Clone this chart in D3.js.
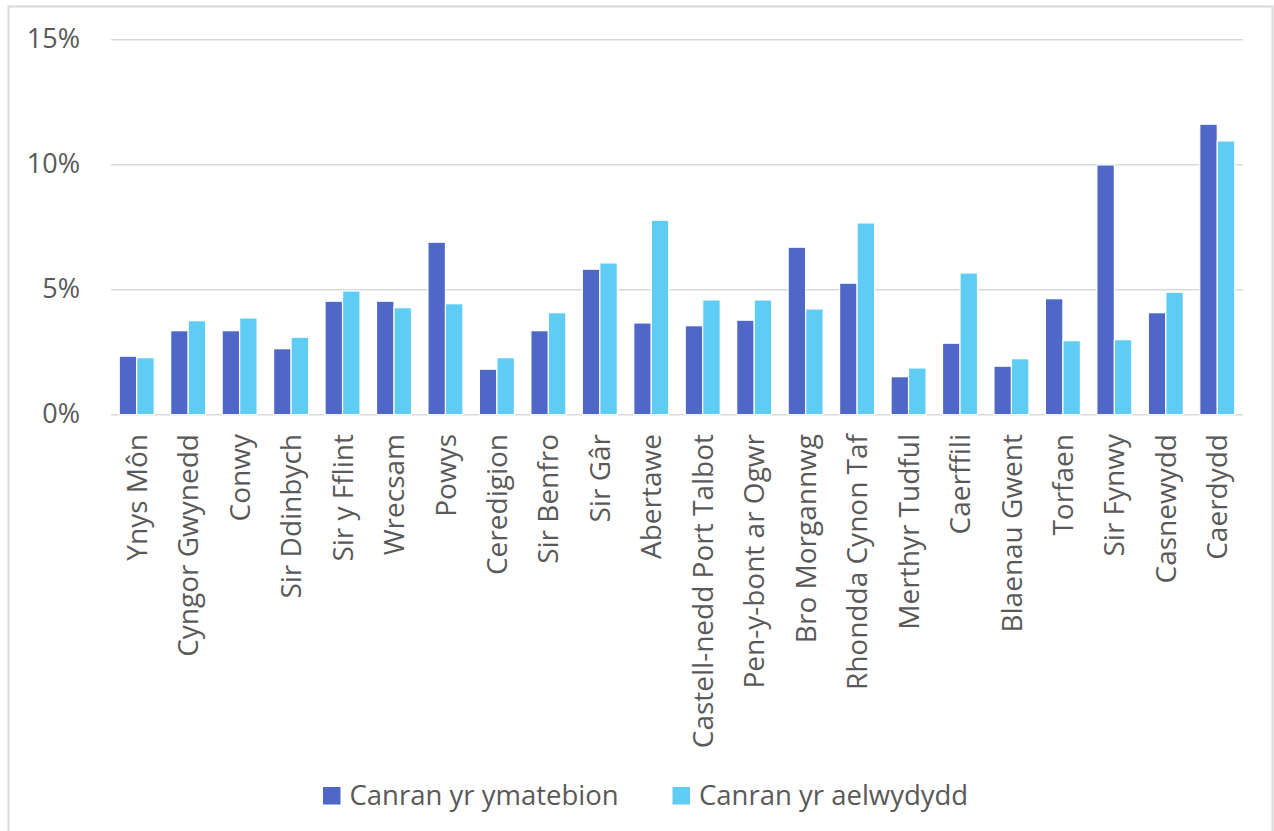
<!DOCTYPE html>
<html>
<head>
<meta charset="utf-8">
<script src="https://cdn.jsdelivr.net/npm/d3@7"></script>
<style>
  html, body { margin: 0; padding: 0; background: #fff; }
  svg { display: block; }
  text { font-family: "Open Sans", "Noto Sans", sans-serif; fill: #595959; }
</style>
</head>
<body>
<svg id="chart" width="1274" height="831"></svg>
<script>
const categories = ["Ynys Môn", "Cyngor Gwynedd", "Conwy", "Sir Ddinbych", "Sir y Fflint", "Wrecsam", "Powys", "Ceredigion", "Sir Benfro", "Sir Gâr", "Abertawe", "Castell-nedd Port Talbot", "Pen-y-bont ar Ogwr", "Bro Morgannwg", "Rhondda Cynon Taf", "Merthyr Tudful", "Caerffili", "Blaenau Gwent", "Torfaen", "Sir Fynwy", "Casnewydd", "Caerdydd"];
const seriesNames = ["Canran yr ymatebion", "Canran yr aelwydydd"];
const ymatebion = [2.34, 3.36, 3.36, 2.64, 4.54, 4.54, 6.90, 1.82, 3.36, 5.82, 3.67, 3.56, 3.78, 6.70, 5.26, 1.52, 2.86, 1.94, 4.64, 9.99, 4.08, 11.62];
const aelwydydd = [2.28, 3.76, 3.87, 3.10, 4.95, 4.28, 4.44, 2.28, 4.08, 6.07, 7.78, 4.59, 4.59, 4.23, 7.67, 1.87, 5.67, 2.24, 2.96, 3.00, 4.90, 10.95];
const yTicks = [0, 5, 10, 15];
const colors = ["#4F67C7", "#5FCCF3"];

const svg = d3.select("#chart");

// outer chart border
svg.append("rect")
  .attr("x", 8.5).attr("y", 6.5)
  .attr("width", 1264).attr("height", 840)
  .attr("fill", "none").attr("stroke", "#d9d9d9").attr("stroke-width", 2);

const plotLeft = 111, plotRight = 1243, plotTop = 39.7, plotBottom = 414.7;

const x = d3.scaleBand().domain(categories).range([plotLeft, plotRight])
  .paddingInner(0.32).paddingOuter(0.16);
const x1 = d3.scaleBand().domain(seriesNames).range([0, x.bandwidth()]).padding(0);
const y = d3.scaleLinear().domain([0, 15]).range([plotBottom, plotTop]);

// gridlines
svg.append("g").selectAll("line").data(yTicks).join("line")
  .attr("x1", plotLeft).attr("x2", plotRight)
  .attr("y1", d => y(d)).attr("y2", d => y(d))
  .attr("stroke", "#d9d9d9").attr("stroke-width", 1.5);

// y tick labels
svg.append("g").selectAll("text").data(yTicks).join("text")
  .attr("x", 80).attr("y", d => y(d))
  .attr("dy", "0.32em")
  .attr("text-anchor", "end")
  .style("font-size", "27px")
  .text(d => d + "%");

// bars
const rows = categories.map((c, i) => ({ cat: c, vals: [ymatebion[i], aelwydydd[i]] }));
const groups = svg.append("g").selectAll("g").data(rows).join("g")
  .attr("transform", d => `translate(${x(d.cat)},0)`);
groups.selectAll("rect").data(d => d.vals.map((v, j) => ({ s: seriesNames[j], v, j })))
  .join("rect")
  .attr("x", d => x1(d.s))
  .attr("width", x1.bandwidth())
  .attr("y", d => y(d.v))
  .attr("height", d => y(0) - y(d.v))
  .attr("fill", d => colors[d.j])
  .attr("stroke", "#fff").attr("stroke-width", 1.2);

// x labels (rotated)
svg.append("g").selectAll("text").data(categories).join("text")
  .attr("transform", d => `translate(${x(d) + x.bandwidth() / 2},434) rotate(-90)`)
  .attr("dy", "0.36em")
  .attr("text-anchor", "end")
  .style("font-size", "28px")
  .text(d => d);

// legend
const legendItems = [{ name: seriesNames[0], c: colors[0], x: 323 }, { name: seriesNames[1], c: colors[1], x: 672.5 }];
const lg = svg.append("g").selectAll("g").data(legendItems).join("g")
  .attr("transform", d => `translate(${d.x},787)`);
lg.append("rect").attr("width", 17.5).attr("height", 17.5).attr("fill", d => d.c);
lg.append("text").attr("x", 26.5).attr("y", 17.8)
  .style("font-size", "27.5px")
  .text(d => d.name);
</script>
</body>
</html>
